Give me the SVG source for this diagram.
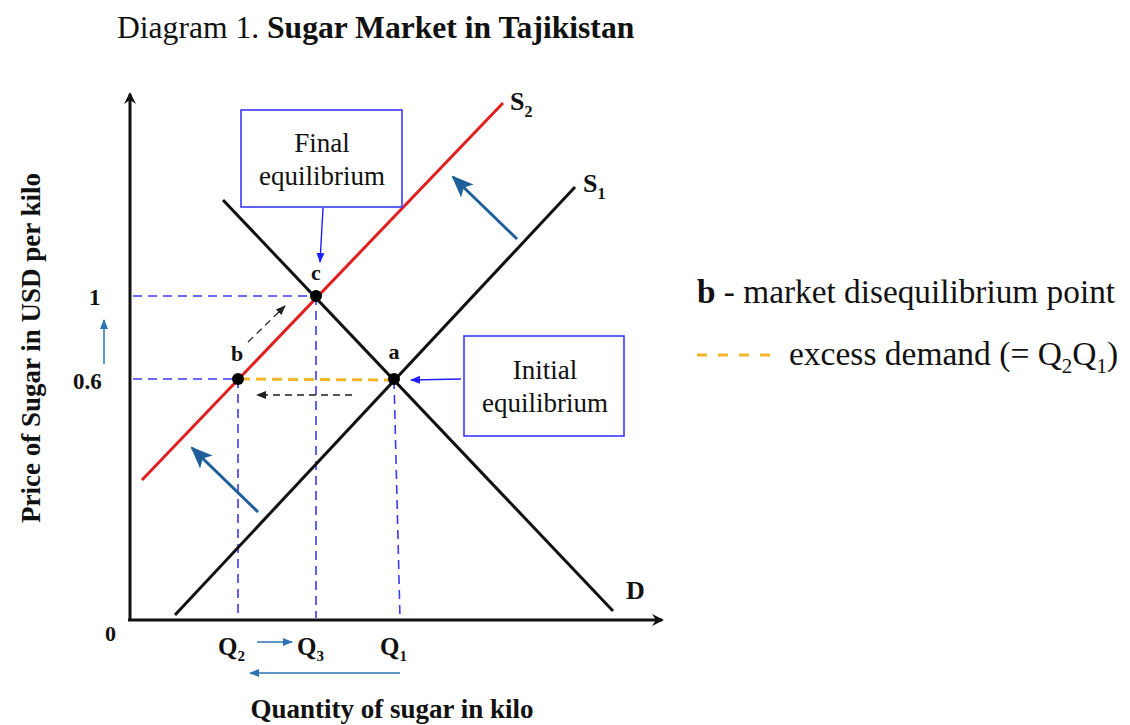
<svg xmlns="http://www.w3.org/2000/svg" width="1130" height="725" viewBox="0 0 1130 725">
<style>
text{font-family:"Liberation Serif","Times New Roman",serif;fill:#111}
.b{font-weight:bold}
.ax{stroke:#111;stroke-width:3;fill:none}
.crv{stroke:#111;stroke-width:3;fill:none}
.red{stroke:#e02020;stroke-width:3;fill:none}
.gd{stroke:#3a3aff;stroke-width:1.6;stroke-dasharray:9,6;fill:none}
.yd{stroke:#f2b62a;stroke-width:3;stroke-dasharray:10,6;fill:none}
.box{fill:#fff;stroke:#3a3aff;stroke-width:1.6}
.bl{stroke:#2020ff;stroke-width:1.4;fill:none}
.sb{stroke:#1f5f99;stroke-width:3;fill:none}
.sbt{stroke:#2e74b5;stroke-width:1.5;fill:none}
.kd{stroke:#222;stroke-width:1.3;stroke-dasharray:7,5;fill:none}
.bt{font-size:27px}
</style>
<defs>
<marker id="mAx" markerWidth="12" markerHeight="12" refX="10" refY="6" orient="auto" markerUnits="userSpaceOnUse"><path d="M0,0 L12,6 L0,12 L4,6 Z" fill="#111"/></marker>
<marker id="mBl" markerWidth="10" markerHeight="10" refX="9" refY="5" orient="auto" markerUnits="userSpaceOnUse"><path d="M0,1 L10,5 L0,9 Z" fill="#2020ff"/></marker>
<marker id="mSb" markerWidth="22" markerHeight="20" refX="20" refY="10" orient="auto" markerUnits="userSpaceOnUse"><path d="M0,1 L22,10 L0,19 L5,10 Z" fill="#1f5f99"/></marker>
<marker id="mSbt" markerWidth="10" markerHeight="10" refX="9" refY="5" orient="auto" markerUnits="userSpaceOnUse"><path d="M0,1 L10,5 L0,9 Z" fill="#2e74b5"/></marker>
<marker id="mK" markerWidth="10" markerHeight="10" refX="9" refY="5" orient="auto" markerUnits="userSpaceOnUse"><path d="M0,1 L10,5 L0,9 Z" fill="#222"/></marker>
</defs>

<g id="title"><text x="117" y="38" font-size="31.6">Diagram 1. <tspan class="b">Sugar Market in Tajikistan</tspan></text></g>

<g id="axes">
<line class="ax" x1="130" y1="620" x2="130" y2="94" marker-end="url(#mAx)"/>
<line class="ax" x1="128" y1="620" x2="662" y2="620" marker-end="url(#mAx)"/>
<text x="105" y="641" font-size="22" class="b">0</text>
<text x="89" y="305" font-size="23" class="b">1</text>
<text x="73" y="389" font-size="23" class="b">0.6</text>
<text class="b" font-size="27" transform="translate(40,348) rotate(-90)" text-anchor="middle">Price of Sugar in USD per kilo</text>
<text class="b" font-size="27" x="392" y="718" text-anchor="middle">Quantity of sugar in kilo</text>
</g>

<g id="connectors">
<line class="gd" x1="133" y1="296" x2="316" y2="296"/>
<line class="gd" x1="133" y1="379" x2="238" y2="379"/>
<line class="gd" x1="238" y1="379" x2="238" y2="618"/>
<line class="gd" x1="316" y1="296" x2="316" y2="618"/>
<line class="gd" x1="394" y1="380" x2="400" y2="618"/>
<line class="yd" x1="240" y1="379" x2="392" y2="380"/>
<line class="kd" x1="248" y1="342" x2="285" y2="306" marker-end="url(#mK)"/>
<line class="kd" x1="352" y1="395" x2="257" y2="395" marker-end="url(#mK)"/>
<line class="sb" x1="517" y1="239" x2="453" y2="177" marker-end="url(#mSb)"/>
<line class="sb" x1="258" y1="512" x2="192" y2="448" marker-end="url(#mSb)"/>
<line class="sbt" x1="104" y1="364" x2="104" y2="320" marker-end="url(#mSbt)"/>
<line class="sbt" x1="257" y1="642" x2="292" y2="642" marker-end="url(#mSbt)"/>
<line class="sbt" x1="400" y1="673" x2="250" y2="673" marker-end="url(#mSbt)"/>
<line class="bl" x1="323" y1="208" x2="320" y2="262" marker-end="url(#mBl)"/>
<line class="bl" x1="461" y1="379" x2="411" y2="380" marker-end="url(#mBl)"/>
</g>

<g id="curve-D"><line class="crv" x1="223" y1="200" x2="613" y2="611"/><text x="626" y="599" font-size="26" class="b">D</text></g>
<g id="curve-S1"><line class="crv" x1="175" y1="615" x2="575" y2="187"/><text x="583" y="192" font-size="26" class="b">S<tspan font-size="16" dy="7">1</tspan></text></g>
<g id="curve-S2"><line class="red" x1="142" y1="480" x2="503" y2="103"/><text x="510" y="110" font-size="26" class="b">S<tspan font-size="16" dy="7">2</tspan></text></g>

<g id="point-a"><circle cx="394" cy="379" r="6" fill="#000"/><text x="394" y="359" font-size="22" class="b" text-anchor="middle">a</text></g>
<g id="point-b"><circle cx="238" cy="379" r="6" fill="#000"/><text x="237" y="361" font-size="22" class="b" text-anchor="middle">b</text></g>
<g id="point-c"><circle cx="316" cy="296" r="6" fill="#000"/><text x="316" y="280" font-size="22" class="b" text-anchor="middle">c</text></g>

<g id="q-labels">
<text x="218" y="655" font-size="25" class="b">Q<tspan font-size="15" dy="6">2</tspan></text>
<text x="297" y="655" font-size="25" class="b">Q<tspan font-size="15" dy="6">3</tspan></text>
<text x="380" y="655" font-size="25" class="b">Q<tspan font-size="15" dy="6">1</tspan></text>
</g>

<g id="box-final"><rect class="box" x="241" y="110" width="161" height="97"/><text class="bt" x="322" y="152" text-anchor="middle">Final</text><text class="bt" x="322" y="185" text-anchor="middle">equilibrium</text></g>
<g id="box-initial"><rect class="box" x="464" y="336" width="160" height="100"/><text class="bt" x="545" y="379" text-anchor="middle">Initial</text><text class="bt" x="545" y="412" text-anchor="middle">equilibrium</text></g>

<g id="legend">
<text x="697" y="303" font-size="33.3"><tspan class="b">b</tspan> - market disequilibrium point</text>
<line x1="697" y1="355" x2="770" y2="355" stroke="#f2b62a" stroke-width="3" stroke-dasharray="10,11"/>
<text x="789" y="365" font-size="33.5">excess demand (= Q<tspan font-size="21" dy="8">2</tspan><tspan dy="-8">Q</tspan><tspan font-size="21" dy="8">1</tspan><tspan dy="-8">)</tspan></text>
</g>
</svg>
